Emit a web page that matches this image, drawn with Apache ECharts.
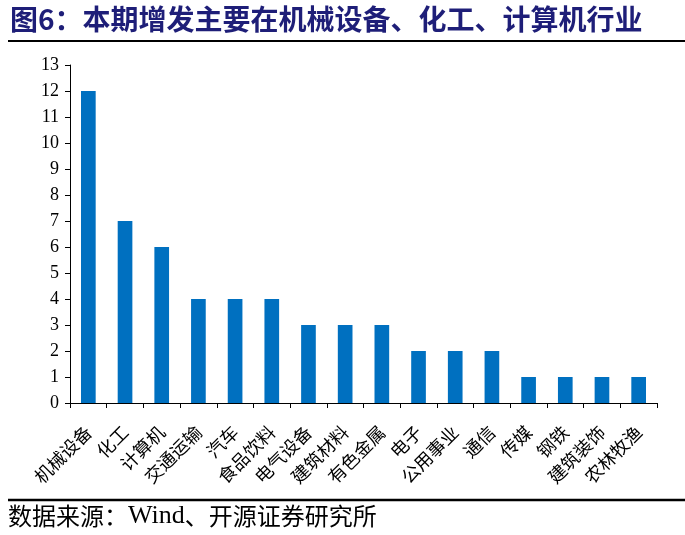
<!DOCTYPE html>
<html>
<head>
<meta charset="utf-8">
<script src="https://cdn.jsdelivr.net/npm/echarts@6/dist/echarts.min.js"></script>
<style>html,body{margin:0;padding:0;background:#fff;}#c{width:685px;height:535px;}</style>
</head>
<body>
<div id="c"></div>
<script>
var categories = ['机械设备','化工','计算机','交通运输','汽车','食品饮料','电气设备','建筑材料','有色金属','电子','公用事业','通信','传媒','钢铁','建筑装饰','农林牧渔'];
var values = [12,7,6,4,4,4,3,3,3,2,2,2,1,1,1,1];
var titleText = '图6：本期增发主要在机械设备、化工、计算机行业';
var sourcePrefix = '数据来源：';
var sourceWind = 'Wind';
var sourceSuffix = '、开源证券研究所';

var chart = echarts.init(document.getElementById('c'), null, {renderer:'canvas'});
chart.setOption({
  animation: false,
  backgroundColor: '#fff',
  grid: {left: 70, right: 28, top: 65, bottom: 132},
  xAxis: {
    type: 'category',
    data: categories,
    axisLine: {lineStyle: {color: '#000', width: 1}},
    axisTick: {show: true, length: 5, lineStyle: {color: '#000'}},
    axisLabel: {interval: 0, rotate: 45, fontSize: 18, color: '#000', fontFamily: 'Noto Sans CJK SC', margin: 26}
  },
  yAxis: {
    type: 'value',
    min: 0, max: 13, interval: 1,
    axisLine: {show: true, lineStyle: {color: '#000', width: 1}},
    axisTick: {show: true, length: 5, lineStyle: {color: '#000'}},
    splitLine: {show: false},
    axisLabel: {fontSize: 18, color: '#000', fontFamily: 'Liberation Serif', margin: 11}
  },
  series: [{
    type: 'bar',
    data: values,
    barWidth: '40%',
    itemStyle: {color: '#0070C0'}
  }],
  graphic: [
    {type: 'text', left: 10, top: 5, style: {text: titleText, fontSize: 28, fontWeight: 'bold', fill: '#1E1E78', fontFamily: 'Noto Sans CJK SC'}},
    {type: 'line', shape: {x1: 8, y1: 41, x2: 685, y2: 41}, style: {stroke: '#000', lineWidth: 2}},
    {type: 'line', shape: {x1: 8, y1: 500, x2: 685, y2: 500}, style: {stroke: '#000', lineWidth: 2.5}},
    {type: 'text', left: 8, top: 503, style: {
      text: '{a|' + sourcePrefix + '}{b|' + sourceWind + '}{a|' + sourceSuffix + '}',
      rich: {
        a: {fontSize: 24, fill: '#000', fontFamily: 'Noto Sans CJK SC'},
        b: {fontSize: 26, fill: '#000', fontFamily: 'Liberation Serif'}
      }
    }}
  ]
});
</script>
</body>
</html>
